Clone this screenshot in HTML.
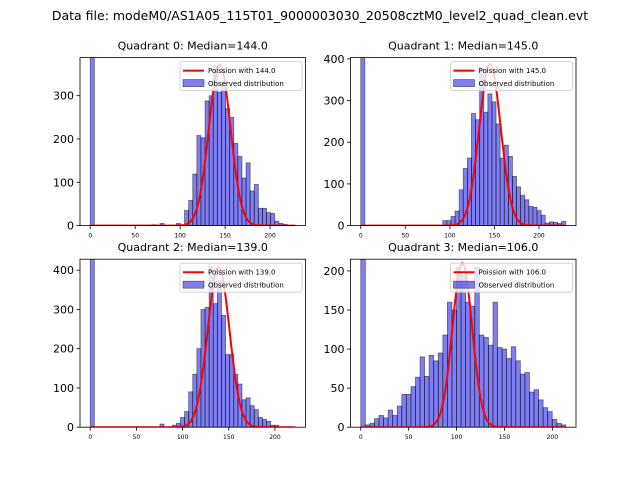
<!DOCTYPE html>
<html><head><meta charset="utf-8"><style>
body{margin:0;background:#fff;}
svg{display:block;font-family:"DejaVu Sans","Liberation Sans",sans-serif;}
</style></head><body>
<svg id="chart" width="640" height="480">
<text x="320" y="20" font-size="12.5" text-anchor="middle">Data file: modeM0/AS1A05_115T01_9000003030_20508cztM0_level2_quad_clean.evt</text>
</svg>
<script>
const medians = [144.0, 145.0, 139.0, 106.0];
const binWidths = [4.56, 4.6, 4.44, 4.76];
const zeroCounts = [2000, 2000, 2000, 2000];
const startIdx = [23, 20, 21, 1];
const counts0 = [35,58,119,208,203,288,300,370,308,330,270,250,190,160,110,145,80,95,40,40,30,28,10,5,3];
const counts1 = [12,12,22,35,86,137,162,269,254,375,272,316,297,244,162,193,166,118,93,73,62,46,44,36,25,6,9,8,5,10];
const counts2 = [10,25,40,90,135,200,300,305,410,315,375,285,185,185,135,110,70,75,55,45,25,20,15,5,5];
const counts3 = [3,5,11,15,12,22,15,27,42,42,52,64,90,65,92,85,95,118,160,150,205,195,160,155,205,118,115,105,160,102,100,88,103,85,68,70,45,48,35,25,20,10,5,3];
const extraIdx0 = [15,17,21], extraVal0 = [2,5,5];
const extraIdx2 = [17,20], extraVal2 = [8,5];
const curvePeaks = [372, 388, 408, 210];
const dataMax = [228, 230, 222, 214];
const yMax = [388, 403, 428, 215];
const yTicks = [[0,100,200,300],[0,100,200,300,400],[0,100,200,300,400],[0,50,100,150,200]];
const xTicks = [0,50,100,150,200];

const NS="http://www.w3.org/2000/svg";
const svg=document.getElementById('chart');
function mk(tag,attrs,parent){const e=document.createElementNS(NS,tag);for(const k in attrs)e.setAttribute(k,attrs[k]);(parent||svg).appendChild(e);return e;}
const boxes=[[80,57.6],[350.5,57.6],[80,259.2],[350.5,259.2]];
const W=225.5,H=168;
const allCounts=[counts0,counts1,counts2,counts3];
for(let q=0;q<4;q++){
  const [L,T]=boxes[q];
  const g=mk('g',{});
  
  
  const xmin=-0.05*dataMax[q], xmax=1.05*dataMax[q];
  const X=v=>L+(v-xmin)/(xmax-xmin)*W;
  const Y=v=>T+H-Math.min(v,yMax[q]*1.01)/yMax[q]*H;
  const cid='clip'+q;
  const cp=mk('clipPath',{id:cid},g);mk('rect',{x:L,y:T,width:W,height:H},cp);
  const bars=mk('g',{'clip-path':'url(#'+cid+')'},g);
  const w=binWidths[q];
  const bins=[[0,zeroCounts[q]]];
  allCounts[q].forEach((c,i)=>bins.push([startIdx[q]+i,c]));
  if(q==0) extraIdx0.forEach((b,i)=>bins.push([b,extraVal0[i]]));
  if(q==2) extraIdx2.forEach((b,i)=>bins.push([b,extraVal2[i]]));
  bins.forEach(([b,c])=>{
    const r=mk('rect',{x:X(b*w),y:Y(c),width:X((b+1)*w)-X(b*w),height:T+H-Y(c),fill:'rgba(0,0,230,0.5)',stroke:'rgba(0,0,0,0.5)','stroke-width':0.8},bars);
    
    
  });
  let d='';const mu=medians[q],s=Math.sqrt(mu);
  for(let x=0;x<=dataMax[q];x+=1){const v=curvePeaks[q]*Math.exp(-(x-mu)*(x-mu)/(2*s*s));d+=(x?'L':'M')+X(x).toFixed(1)+','+Y(v).toFixed(1);}
  const p=mk('path',{d:d,fill:'none',stroke:'#f00','stroke-width':2},bars);
  
  
  const fr=mk('rect',{x:L,y:T,width:W,height:H,fill:'none',stroke:'#000','stroke-width':0.8},g);
  
  
  xTicks.forEach(t=>{
    mk('line',{x1:X(t),x2:X(t),y1:T+H,y2:T+H+3.5,stroke:'#000','stroke-width':0.8},g);
    const tx=mk('text',{x:X(t),y:T+H+12,'font-size':6,'text-anchor':'middle'},g);tx.textContent=t;
    
    
  });
  yTicks[q].forEach(t=>{
    mk('line',{x1:L-3.5,x2:L,y1:Y(t),y2:Y(t),stroke:'#000','stroke-width':0.8},g);
    const tx=mk('text',{x:L-6,y:Y(t)+4,'font-size':11,'text-anchor':'end'},g);tx.textContent=t;
    
    
  });
  const ti=mk('text',{x:L+W/2,y:T-8,'font-size':11,'text-anchor':'middle'},g);
  ti.textContent='Quadrant '+q+': Median='+medians[q].toFixed(1);
  
  
  const lg=mk('g',{},g);
  
  
  const lx=L+W-125.5, ly=T+4;
  mk('rect',{x:lx,y:ly,width:122,height:29,rx:2,fill:'rgba(255,255,255,0.8)',stroke:'#ccc','stroke-width':0.8},lg);
  mk('line',{x1:lx+3,x2:lx+24,y1:ly+9,y2:ly+9,stroke:'#f00','stroke-width':2},lg);
  const t1=mk('text',{x:lx+28,y:ly+11.5,'font-size':7},lg);t1.textContent='Poission with '+medians[q].toFixed(1);
  mk('rect',{x:lx+3,y:ly+18,width:21,height:7,fill:'rgba(0,0,230,0.5)',stroke:'rgba(0,0,0,0.5)','stroke-width':0.8},lg);
  const t2=mk('text',{x:lx+28,y:ly+24.5,'font-size':7},lg);t2.textContent='Observed distribution';
}
</script>
</body></html>
